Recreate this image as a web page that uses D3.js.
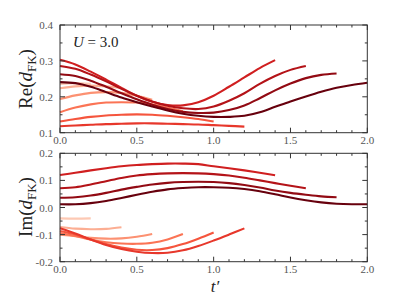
<!DOCTYPE html>
<html><head><meta charset="utf-8">
<script src="https://cdn.jsdelivr.net/npm/d3@7"></script>
<style>body{margin:0;background:#fff}svg{display:block}</style>
</head><body>
<script>
// Curve lengths (t' end values)
const lengths = [0.2, 0.4, 0.6, 0.8, 1.0, 1.2, 1.4, 1.6, 1.8, 2.0];
const xTicks = [0.0, 0.5, 1.0, 1.5, 2.0];
const reTicks = [0.1, 0.2, 0.3, 0.4];
const imTicks = [-0.2, -0.1, 0.0, 0.1, 0.2];
const reTickLabels = ["0.1", "0.2", "0.3", "0.4"];
const imTickLabels = ["-0.2", "-0.1", "0.0", "0.1", "0.2"];
const xTickLabels = ["0.0", "0.5", "1.0", "1.5", "2.0"];

// Re(d_FK) values sampled every 0.1 in t'
const re02 = [0.236, 0.238, 0.236];
const re04 = [0.224, 0.229, 0.231, 0.229, 0.225];
const re06 = [0.194, 0.204, 0.211, 0.213, 0.211, 0.203, 0.192];
const re08 = [0.157, 0.170, 0.179, 0.184, 0.185, 0.184, 0.179, 0.170, 0.160];
const re10 = [0.131, 0.138, 0.144, 0.148, 0.150, 0.151, 0.150, 0.147, 0.143, 0.138, 0.131];
const re12 = [0.118, 0.120, 0.122, 0.124, 0.125, 0.126, 0.126, 0.125, 0.124, 0.123, 0.121, 0.119, 0.117];
const re14 = [0.303, 0.290, 0.270, 0.248, 0.225, 0.203, 0.186, 0.177, 0.176, 0.185, 0.203, 0.228, 0.254, 0.280, 0.302];
const re16 = [0.286, 0.278, 0.262, 0.243, 0.222, 0.203, 0.187, 0.175, 0.168, 0.166, 0.173, 0.189, 0.210, 0.236, 0.258, 0.275, 0.286];
const re18 = [0.263, 0.258, 0.245, 0.228, 0.210, 0.193, 0.178, 0.166, 0.158, 0.155, 0.156, 0.163, 0.176, 0.196, 0.218, 0.237, 0.252, 0.261, 0.265];
const re20 = [0.241, 0.238, 0.228, 0.213, 0.198, 0.185, 0.173, 0.162, 0.153, 0.147, 0.144, 0.144, 0.147, 0.157, 0.172, 0.187, 0.201, 0.214, 0.225, 0.233, 0.239];

// Im(d_FK) values sampled every 0.1 in t'
const im02 = [-0.040, -0.041, -0.040];
const im04 = [-0.072, -0.078, -0.080, -0.079, -0.073];
const im06 = [-0.100, -0.106, -0.112, -0.115, -0.114, -0.108, -0.098];
const im08 = [-0.094, -0.105, -0.118, -0.128, -0.133, -0.134, -0.130, -0.118, -0.098];
const im10 = [-0.087, -0.100, -0.118, -0.135, -0.148, -0.156, -0.157, -0.150, -0.135, -0.115, -0.092];
const im12 = [-0.077, -0.096, -0.118, -0.138, -0.153, -0.163, -0.168, -0.167, -0.158, -0.142, -0.122, -0.100, -0.077];
const im14 = [0.120, 0.128, 0.137, 0.145, 0.152, 0.157, 0.160, 0.162, 0.162, 0.160, 0.152, 0.145, 0.137, 0.128, 0.119];
const im16 = [0.071, 0.075, 0.085, 0.097, 0.109, 0.118, 0.123, 0.126, 0.127, 0.126, 0.123, 0.118, 0.110, 0.100, 0.090, 0.080, 0.071];
const im18 = [0.036, 0.038, 0.044, 0.054, 0.066, 0.076, 0.085, 0.091, 0.094, 0.095, 0.094, 0.090, 0.083, 0.074, 0.063, 0.054, 0.047, 0.041, 0.038];
const im20 = [0.012, 0.012, 0.016, 0.024, 0.035, 0.047, 0.058, 0.067, 0.072, 0.075, 0.075, 0.073, 0.068, 0.060, 0.049, 0.037, 0.027, 0.019, 0.014, 0.012, 0.012];

const reSeries = [re02, re04, re06, re08, re10, re12, re14, re16, re18, re20];
const imSeries = [im02, im04, im06, im08, im10, im12, im14, im16, im18, im20];
const dt = 0.1;

const W = 395, H = 296;
const svg = d3.select("body").append("svg").attr("width", W).attr("height", H);
const x = d3.scaleLinear().domain([0, 2]).range([60, 367.3]);
const yRe = d3.scaleLinear().domain([0.1, 0.4]).range([132.7, 25]);
const yIm = d3.scaleLinear().domain([-0.2, 0.2]).range([261.7, 153.3]);
const color = i => d3.interpolateReds(0.2 + 0.8 * i / 9);
const serif = "'Liberation Serif', 'DejaVu Serif', serif";

function panel(y, series, yt, ytl, yMinorStep, yLabelCenter, isRe) {
  const g = svg.append("g");
  const [x0, x1] = x.range();
  const [yb, ytop] = y.range();
  const line = d3.line().x(d => x(d[0])).y(d => y(d[1])).curve(d3.curveCatmullRom.alpha(0.5));
  series.forEach((vals, i) => {
    const pts = vals.map((v, k) => [k * dt, v]);
    g.append("path").attr("d", line(pts)).attr("fill", "none")
      .attr("stroke", color(i)).attr("stroke-width", 2.1).attr("stroke-linecap", "butt");
  });
  g.append("rect").attr("x", x0).attr("y", ytop).attr("width", x1 - x0).attr("height", yb - ytop)
    .attr("fill", "none").attr("stroke", "#333").attr("stroke-width", 1);
  const xt = d3.range(0, 2.0001, 0.1);
  xt.forEach(v => {
    const major = Math.abs(v * 2 - Math.round(v * 2)) < 1e-6;
    const len = major ? 5 : 2.5;
    g.append("line").attr("x1", x(v)).attr("x2", x(v)).attr("y1", yb).attr("y2", yb - len).attr("stroke", "#333");
    g.append("line").attr("x1", x(v)).attr("x2", x(v)).attr("y1", ytop).attr("y2", ytop + len).attr("stroke", "#333");
  });
  const d = y.domain();
  const yt2 = d3.range(d[0], d[1] + 1e-6, yMinorStep);
  yt2.forEach(v => {
    const major = yt.some(t => Math.abs(t - v) < 1e-6);
    const len = major ? 5 : 2.5;
    g.append("line").attr("x1", x0).attr("x2", x0 + len).attr("y1", y(v)).attr("y2", y(v)).attr("stroke", "#333");
    g.append("line").attr("x1", x1).attr("x2", x1 - len).attr("y1", y(v)).attr("y2", y(v)).attr("stroke", "#333");
  });
  yt.forEach((v, i) => {
    g.append("text").attr("x", x0 - 7).attr("y", y(v) + 4).attr("text-anchor", "end")
      .attr("font-family", serif).attr("font-size", 11).attr("fill", "#555").text(ytl[i]);
  });
  xTicks.forEach((v, i) => {
    g.append("text").attr("x", x(v)).attr("y", yb + 11.5).attr("text-anchor", "middle")
      .attr("font-family", serif).attr("font-size", 11).attr("fill", "#555").text(xTickLabels[i]);
  });
  const t = g.append("text").attr("transform", `translate(32,${yLabelCenter}) rotate(-90)`)
    .attr("text-anchor", "middle").attr("font-family", serif).attr("font-size", 19).attr("fill", "#222");
  t.append("tspan").text(isRe ? "Re(" : "Im(");
  t.append("tspan").attr("font-style", "italic").text("d");
  t.append("tspan").attr("font-size", 13).attr("dy", 4).text("FK");
  t.append("tspan").attr("dy", -4).text(")");
}

panel(yRe, reSeries, reTicks, reTickLabels, 0.05, 79, true);
panel(yIm, imSeries, imTicks, imTickLabels, 0.05, 207, false);

const ann = svg.append("text").attr("x", 73).attr("y", 47).attr("font-family", serif)
  .attr("font-size", 15).attr("fill", "#222");
ann.append("tspan").attr("font-style", "italic").text("U");
ann.append("tspan").text(" = 3.0");

svg.append("text").attr("x", 215).attr("y", 292).attr("text-anchor", "middle")
  .attr("font-family", serif).attr("font-size", 17).attr("font-style", "italic")
  .attr("fill", "#222").text("t′");
</script>
</body></html>
